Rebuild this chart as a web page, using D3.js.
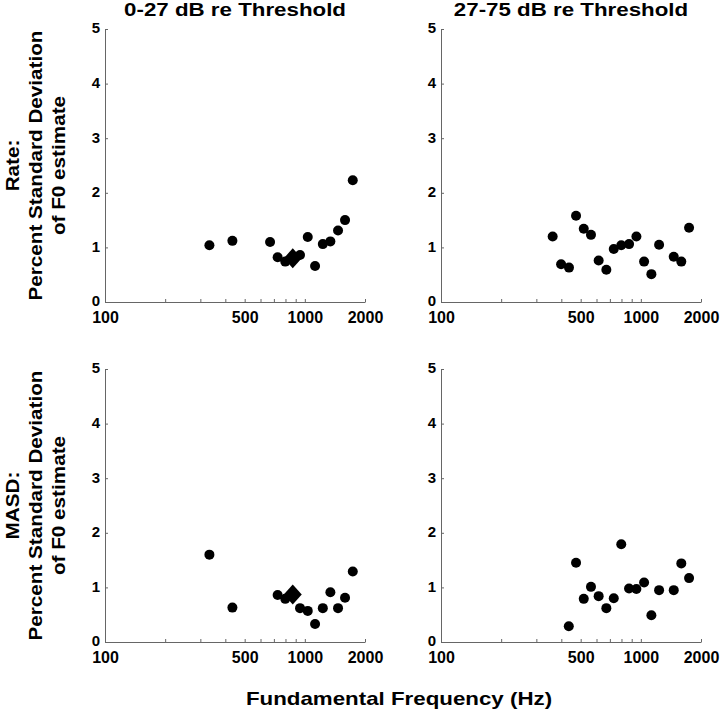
<!DOCTYPE html>
<html lang="en">
<head>
<meta charset="UTF-8">
<title>F0 estimate variability</title>
<script src="https://d3js.org/d3.v7.min.js"></script>
<style>
  body { margin: 0; background: #fff; }
  svg { font-family: "Liberation Sans", Arial, sans-serif; }
  .axis path, .axis line { stroke: #666; }
  .axis text { font-weight: bold; fill: #000; }
  .xaxis text { font-size: 16px; }
  .yaxis text { font-size: 15px; }
</style>
</head>
<body>
<div id="chart"></div>
<script>
// panel titles and row labels
const colTitles = ["0-27 dB re Threshold", "27-75 dB re Threshold"];
const rowLabels = [["Rate:", "Percent Standard Deviation", "of F0 estimate"],
                   ["MASD:", "Percent Standard Deviation", "of F0 estimate"]];

// 0-27 dB, rate
const freqLowRate = [333, 434, 670, 731, 798, 946, 1034, 1125, 1230, 1342, 1466, 1589, 1737];
const rateLow = [1.04, 1.12, 1.10, 0.82, 0.74, 0.86, 1.19, 0.66, 1.06, 1.11, 1.31, 1.50, 2.23];
// 0-27 dB, MASD
const freqLowMasd = [333, 434, 731, 798, 946, 1034, 1125, 1230, 1342, 1466, 1589, 1737];
const masdLow = [1.60, 0.63, 0.86, 0.79, 0.62, 0.57, 0.33, 0.62, 0.91, 0.62, 0.81, 1.29];
// diamond markers (left column)
const diamondFreq = 870;
const diamondRate = 0.80;
const diamondMasd = 0.87;

// 27-75 dB, rate
const freqHighRate = [362, 399, 437, 474, 518, 563, 615, 672, 732, 798, 873, 950, 1038, 1129, 1234, 1461, 1594, 1743];
const rateHigh = [1.20, 0.69, 0.63, 1.58, 1.34, 1.23, 0.76, 0.59, 0.97, 1.04, 1.06, 1.20, 0.74, 0.51, 1.05, 0.83, 0.74, 1.36];
// 27-75 dB, MASD
const freqHighMasd = [436, 474, 518, 563, 615, 672, 732, 798, 873, 950, 1038, 1129, 1234, 1461, 1594, 1743];
const masdHigh = [0.29, 1.45, 0.79, 1.01, 0.84, 0.62, 0.80, 1.79, 0.98, 0.97, 1.09, 0.49, 0.95, 0.95, 1.44, 1.17];

const xTicks = [100, 200, 300, 400, 500, 600, 700, 800, 900, 1000, 2000];
const xLabels = [100, 500, 1000, 2000];
const yTicks = [0, 1, 2, 3, 4, 5];

const width = 720, height = 711;
const colX = [105, 441], panelW = 260;
const rowY = [29, 369], panelH = 273;

const svg = d3.select("#chart").append("svg")
    .attr("width", width).attr("height", height);

const panels = [
  { r: 0, c: 0, fx: freqLowRate, vy: rateLow, diamond: diamondRate },
  { r: 0, c: 1, fx: freqHighRate, vy: rateHigh },
  { r: 1, c: 0, fx: freqLowMasd, vy: masdLow, diamond: diamondMasd },
  { r: 1, c: 1, fx: freqHighMasd, vy: masdHigh }
];

panels.forEach(p => {
  const x = d3.scaleLog().domain([100, 2000]).range([colX[p.c], colX[p.c] + panelW]);
  const y = d3.scaleLinear().domain([0, 5]).range([rowY[p.r] + panelH, rowY[p.r]]);

  svg.append("g").attr("class", "axis xaxis")
      .attr("transform", `translate(0,${rowY[p.r] + panelH})`)
      .call(d3.axisBottom(x).tickValues(xTicks)
        .tickFormat(d => xLabels.includes(d) ? d : "")
        .tickSizeInner(-3).tickSizeOuter(0).tickPadding(10));

  svg.append("g").attr("class", "axis yaxis")
      .attr("transform", `translate(${colX[p.c]},0)`)
      .call(d3.axisLeft(y).tickValues(yTicks).tickFormat(d3.format("d"))
        .tickSizeInner(-3).tickSizeOuter(0).tickPadding(5))
    .selectAll("text").attr("dy", "0.26em");

  svg.append("g").selectAll("circle")
    .data(p.fx.map((f, i) => [f, p.vy[i]]))
    .enter().append("circle")
      .attr("cx", d => x(d[0]))
      .attr("cy", d => y(d[1]))
      .attr("r", 5)
      .attr("fill", "#000");

  if (p.diamond !== undefined) {
    const cx = x(diamondFreq), cy = y(p.diamond);
    svg.append("path")
      .attr("d", `M${cx},${cy - 10}L${cx + 9},${cy}L${cx},${cy + 10}L${cx - 9},${cy}Z`)
      .attr("fill", "#000");
  }
});

// text in the original figure is stretched sideways
const stretch = 1.24;

// column titles
colTitles.forEach((t, i) => {
  svg.append("text")
    .attr("transform", `translate(${colX[i] + panelW / 2},16) scale(${stretch},1)`)
    .attr("text-anchor", "middle")
    .attr("font-size", 18).attr("font-weight", "bold")
    .text(t);
});

// row labels, rotated
rowLabels.forEach((lines, r) => {
  const cy = rowY[r] + panelH / 2;
  lines.forEach((s, j) => {
    svg.append("text")
      .attr("transform", `translate(${19 + j * 23},${cy}) rotate(-90) scale(1.15,1)`)
      .attr("text-anchor", "middle")
      .attr("font-size", 18).attr("font-weight", "bold")
      .text(s);
  });
});

// x axis label
svg.append("text")
  .attr("transform", `translate(399,705) scale(${stretch},1)`)
  .attr("text-anchor", "middle")
  .attr("font-size", 18).attr("font-weight", "bold")
  .text("Fundamental Frequency (Hz)");
</script>
</body>
</html>
